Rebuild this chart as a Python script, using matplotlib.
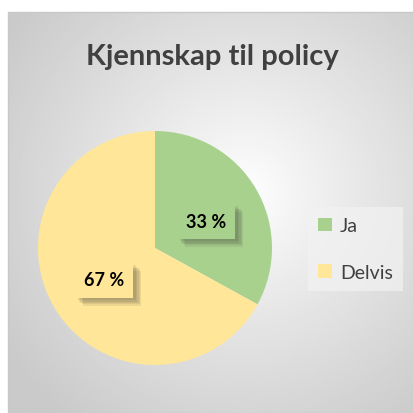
import numpy as np
import matplotlib
matplotlib.use("Agg")
import matplotlib.pyplot as plt
from matplotlib.patches import Rectangle
import matplotlib.patheffects as pe

# data
categories = ["Ja", "Delvis"]
values = [33, 67]
labels = ["33 %", "67 %"]
colors = ["#A9D18E", "#FFE699"]

plt.rcParams['font.family'] = ['Lato', 'DejaVu Sans']

W = H = 414
fig = plt.figure(figsize=(W / 100, H / 100), dpi=100)
fig.patch.set_facecolor("white")
ax = fig.add_axes([0, 0, 1, 1])

# radial gradient background inside the chart frame
x0, y0 = 8, 0
x1, y1 = W, H - 13
yy, xx = np.mgrid[0:200, 0:200]
px = x0 + (x1 - x0) * xx / 199
py = y0 + (y1 - y0) * yy / 199
cx, cy = 245, 220
d = np.sqrt((px - cx) ** 2 + (py - cy) ** 2) / 290
g = 1.0 - 0.21 * np.clip(d, 0, 1) ** 0.9
ax.imshow(g, cmap="gray", vmin=0, vmax=1, extent=[x0, x1, y0, y1],
          origin="lower", zorder=0, interpolation="bilinear")
ax.add_patch(Rectangle((x0, y0), x1 - x0, y1 - y0, fill=False,
                       edgecolor="#c8c8c8", lw=1, zorder=1))

# pie
center = (155, H - 249)
radius = 117
wedges, _ = ax.pie(values, colors=colors, startangle=90, counterclock=False,
                   center=center, radius=radius, frame=True,
                   wedgeprops=dict(edgecolor="none", zorder=2))
ax.set_xlim(0, W)
ax.set_ylim(0, H)
ax.axis("off")

# data labels with soft shadowed boxes
shadow = [pe.SimplePatchShadow(offset=(o, -o), shadow_rgbFace="#333333", alpha=0.09)
          for o in (6, 5, 4, 3, 2)]
label_pos = [(206, H - 222), (104, H - 281)]
for (lx, ly), txt, c in zip(label_pos, labels, colors):
    t = ax.text(lx, ly, txt, ha="center", va="center", fontsize=13,
                fontweight="bold", color="black", zorder=4,
                bbox=dict(boxstyle="square,pad=0.5", facecolor=c,
                          edgecolor="none"))
    t.get_bbox_patch().set_path_effects(shadow + [pe.Normal()])

# title
ax.text(212, H - 57, "Kjennskap til policy", ha="center", va="center",
        fontsize=21, fontweight="bold", color="#404040", zorder=4)

# legend
leg = ax.legend(wedges, categories, loc="center left",
                bbox_to_anchor=(298 / W, 1 - 250 / H),
                frameon=True, fontsize=14, handlelength=0.7,
                handleheight=0.7, labelspacing=1.5, handletextpad=0.4,
                borderpad=0.55, fancybox=False)
leg.get_frame().set_facecolor("#f2f2f2")
leg.get_frame().set_edgecolor("none")
leg.get_frame().set_alpha(0.7)
for t in leg.get_texts():
    t.set_color("#404040")

fig.savefig("out.png", dpi=100)
